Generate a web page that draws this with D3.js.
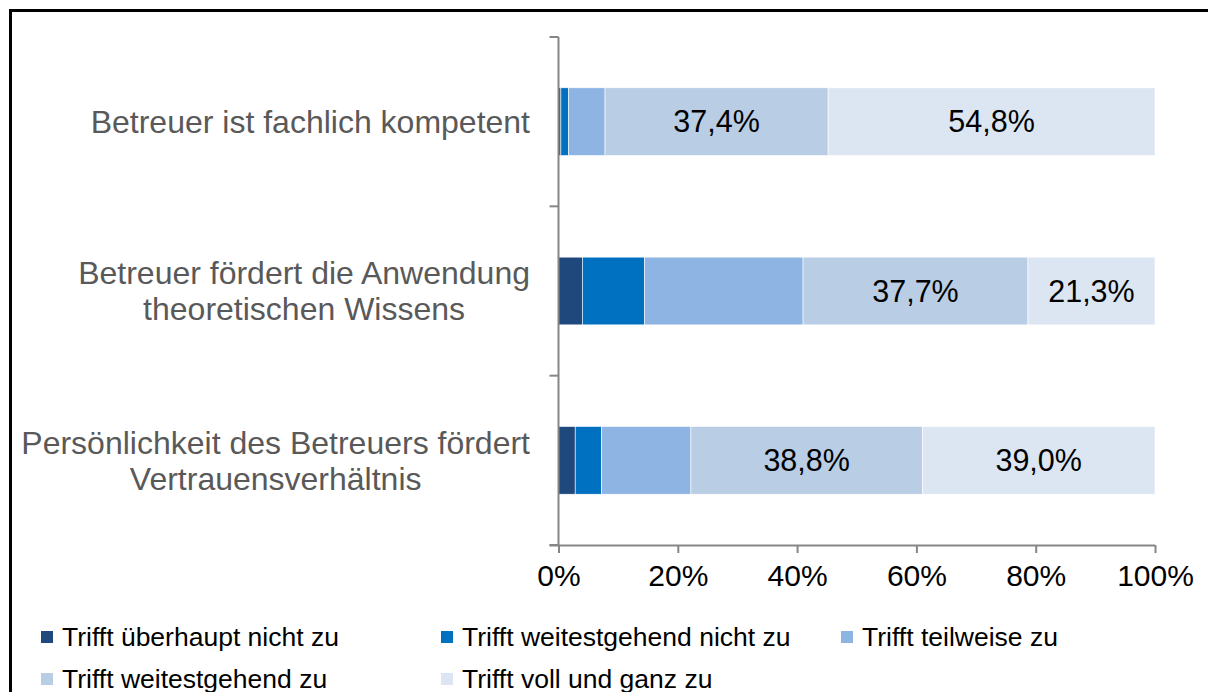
<!DOCTYPE html>
<html>
<head>
<meta charset="utf-8">
<script src="https://cdn.jsdelivr.net/npm/d3@7"></script>
<style>
  body { margin: 0; background: #fff; }
  svg { display: block; font-family: "Liberation Sans", Arial, sans-serif; }
</style>
</head>
<body>
<svg id="chart" width="1208" height="692"></svg>
<script>
const categories = [
  ["Betreuer ist fachlich kompetent"],
  ["Betreuer fördert die Anwendung", "theoretischen Wissens"],
  ["Persönlichkeit des Betreuers fördert", "Vertrauensverhältnis"]
];
const seriesNames = [
  "Trifft überhaupt nicht zu",
  "Trifft weitestgehend nicht zu",
  "Trifft teilweise zu",
  "Trifft weitestgehend zu",
  "Trifft voll und ganz zu"
];
const seriesColors = ["#1F497D", "#0070C0", "#8EB4E3", "#B9CDE5", "#DCE6F2"];
// values per category, in series order (percent)
const values = [
  [0.4, 1.3, 6.1, 37.4, 54.8],
  [4.0, 10.4, 26.6, 37.7, 21.3],
  [2.8, 4.4, 15.0, 38.8, 39.0]
];
const labelled = [3, 4]; // series that carry value labels
const tickValues = [0, 20, 40, 60, 80, 100];

const svg = d3.select("svg#chart");

// frame
svg.append("path")
  .attr("d", "M10.5,700 V10.5 H1215")
  .attr("fill", "none")
  .attr("stroke", "#000")
  .attr("stroke-width", 3);

const x = d3.scaleLinear().domain([0, 100]).range([558.5, 1155]);
const y = d3.scaleBand().domain(d3.range(categories.length)).range([37, 545]).paddingInner(0.6).paddingOuter(0.3);

// stacked bars
values.forEach((row, i) => {
  let acc = 0;
  row.forEach((v, s) => {
    const x0 = acc, x1 = acc + v;
    acc = x1;
    svg.append("rect")
      .attr("x", x(x0))
      .attr("y", y(i))
      .attr("width", x(x1) - x(x0))
      .attr("height", y.bandwidth())
      .attr("fill", seriesColors[s])
      .attr("stroke", "#fff")
      .attr("stroke-width", 0.6);
    if (labelled.includes(s)) {
      svg.append("text")
        .attr("x", (x(x0) + x(x1)) / 2)
        .attr("y", y(i) + y.bandwidth() / 2)
        .attr("dy", "0.35em")
        .attr("text-anchor", "middle")
        .attr("font-size", 30.5)
        .attr("fill", "#000")
        .text(v.toFixed(1).replace(".", ",") + "%");
    }
  });
});

// y axis with category separators
const yEdges = d3.range(categories.length + 1).map(i => 37 + i * (545 - 37) / categories.length);
svg.append("line")
  .attr("x1", x(0)).attr("x2", x(0))
  .attr("y1", 37).attr("y2", 545)
  .attr("stroke", "#868686").attr("stroke-width", 2);
yEdges.forEach(yy => {
  svg.append("line")
    .attr("x1", x(0) - 9).attr("x2", x(0))
    .attr("y1", yy).attr("y2", yy)
    .attr("stroke", "#868686").attr("stroke-width", 2);
});

// category labels: lines centred on each other, block right-aligned
categories.forEach((lines, i) => {
  const cy = y(i) + y.bandwidth() / 2;
  const lh = 36;
  const t = svg.append("text")
    .attr("text-anchor", "middle")
    .attr("font-size", 32)
    .attr("fill", "#595959");
  const spans = lines.map((ln, k) => t.append("tspan")
    .attr("y", cy + (k - (lines.length - 1) / 2) * lh)
    .attr("dy", "0.35em")
    .text(ln));
  const maxW = d3.max(spans, sp => sp.node().getComputedTextLength());
  spans.forEach(sp => sp.attr("x", 530 - maxW / 2));
});

// x axis
const axisX = d3.axisBottom(x)
  .tickValues(tickValues)
  .tickFormat(d => d + "%")
  .tickSize(8)
  .tickPadding(12);
const gx = svg.append("g")
  .attr("transform", "translate(0,545)")
  .call(axisX);
gx.select(".domain").attr("stroke", "#868686").attr("stroke-width", 2).attr("d", `M${x(0) - 9},0.5H${x(100)}`);
gx.selectAll(".tick line").attr("stroke", "#868686").attr("stroke-width", 2);
gx.selectAll(".tick text")
  .attr("font-size", 30)
  .attr("font-family", "Liberation Sans, Arial, sans-serif")
  .attr("fill", "#000");

// legend
const legendPos = [[41, 637], [441, 637], [841, 637], [41, 679], [441, 679]];
seriesNames.forEach((name, s) => {
  const [lx, ly] = legendPos[s];
  svg.append("rect")
    .attr("x", lx).attr("y", ly - 6)
    .attr("width", 12).attr("height", 12)
    .attr("fill", seriesColors[s]);
  svg.append("text")
    .attr("x", lx + 21)
    .attr("y", ly)
    .attr("dy", "0.35em")
    .attr("font-size", 26.5)
    .attr("fill", "#000")
    .text(name);
});
</script>
</body>
</html>
